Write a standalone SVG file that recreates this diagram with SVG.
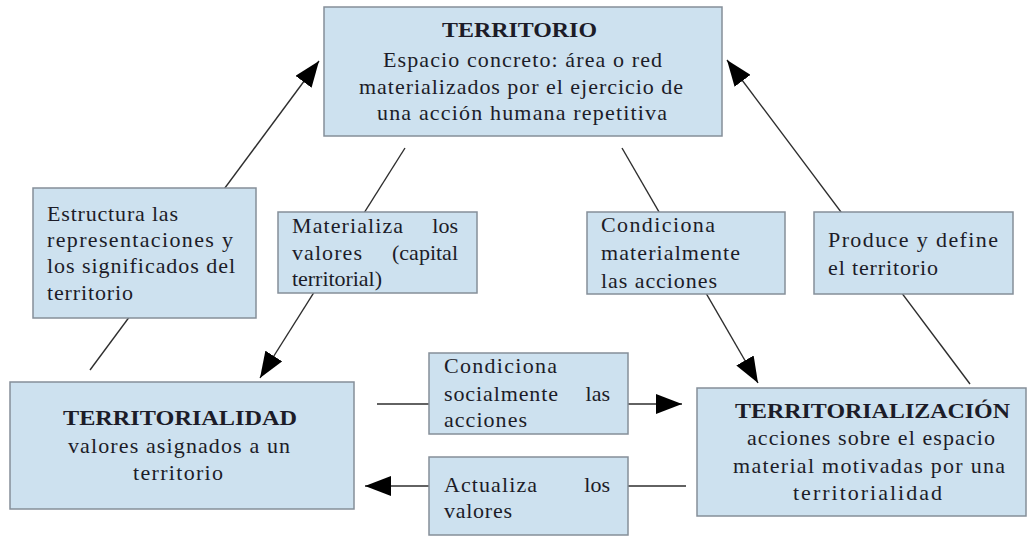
<svg xmlns="http://www.w3.org/2000/svg" width="1032" height="537" viewBox="0 0 1032 537">
  <style>
    .box { fill: #cde1ef; stroke: #858f99; stroke-width: 1.5; }
    .t { font-family: "Liberation Serif", "Times New Roman", serif; font-size: 22px; fill: #1c1c28; }
    .b { font-weight: bold; }
    .c { text-anchor: middle; }
    .e { text-anchor: end; }
    .conn { stroke: #2e2e2e; stroke-width: 1.4; fill: none; marker-end: url(#arrow); }
    .plain { stroke: #2e2e2e; stroke-width: 1.4; fill: none; }
  </style>
  <defs>
    <marker id="arrow" markerUnits="userSpaceOnUse" markerWidth="26" markerHeight="20" viewBox="0 0 26 20" refX="26" refY="10" orient="auto">
      <path d="M0,0 L26,10 L0,20 z" fill="#000"/>
    </marker>
  </defs>
  <rect width="1032" height="537" fill="#ffffff"/>

  <g id="connectors">
    <line class="conn" x1="90" y1="370" x2="319" y2="61"/>
    <line class="conn" x1="405" y1="148" x2="260" y2="378"/>
    <line class="conn" x1="622" y1="148" x2="758" y2="383"/>
    <line class="conn" x1="970" y1="384" x2="727" y2="60"/>
    <line class="conn" x1="377" y1="404" x2="682" y2="404"/>
    <line class="conn" x1="686" y1="486" x2="365" y2="486"/>
  </g>

  <g id="territorio">
    <rect class="box" x="324" y="7" width="398" height="129"/>
    <text class="t b" x="442" y="37" textLength="155" lengthAdjust="spacingAndGlyphs">TERRITORIO</text>
    <text class="t" x="383" y="67" textLength="279" lengthAdjust="spacing">Espacio concreto: área o red</text>
    <text class="t" x="359" y="94" textLength="324" lengthAdjust="spacing">materializados por el ejercicio de</text>
    <text class="t" x="377" y="120" textLength="290" lengthAdjust="spacing">una acción humana repetitiva</text>
  </g>

  <g id="estructura">
    <rect class="box" x="33" y="188" width="223" height="130"/>
    <text class="t" x="47" y="221" textLength="131" lengthAdjust="spacing">Estructura las</text>
    <text class="t" x="47" y="247" textLength="186" lengthAdjust="spacing">representaciones y</text>
    <text class="t" x="47" y="273" textLength="188" lengthAdjust="spacing">los significados del</text>
    <text class="t" x="47" y="300" textLength="86" lengthAdjust="spacing">territorio</text>
  </g>

  <g id="materializa">
    <rect class="box" x="278" y="212" width="199" height="81"/>
    <text class="t" x="292" y="233" textLength="111" lengthAdjust="spacing">Materializa</text>
    <text class="t e" x="458" y="233">los</text>
    <text class="t" x="292" y="260" textLength="70" lengthAdjust="spacing">valores</text>
    <text class="t e" x="458" y="260">(capital</text>
    <text class="t" x="292" y="286" textLength="90" lengthAdjust="spacing">territorial)</text>
  </g>

  <g id="condiciona-materialmente">
    <rect class="box" x="587" y="212" width="198" height="82"/>
    <text class="t" x="601" y="232" textLength="114" lengthAdjust="spacing">Condiciona</text>
    <text class="t" x="601" y="260" textLength="139" lengthAdjust="spacing">materialmente</text>
    <text class="t" x="601" y="288" textLength="116" lengthAdjust="spacing">las acciones</text>
  </g>

  <g id="produce">
    <rect class="box" x="814" y="212" width="199" height="82"/>
    <text class="t" x="828" y="247" textLength="170" lengthAdjust="spacing">Produce y define</text>
    <text class="t" x="828" y="275" textLength="110" lengthAdjust="spacing">el territorio</text>
  </g>

  <g id="territorialidad">
    <rect class="box" x="10" y="382" width="344" height="127"/>
    <text class="t b" x="63" y="425" textLength="234" lengthAdjust="spacingAndGlyphs">TERRITORIALIDAD</text>
    <text class="t" x="68" y="453" textLength="222" lengthAdjust="spacing">valores asignados a un</text>
    <text class="t" x="133" y="480" textLength="90" lengthAdjust="spacing">territorio</text>
  </g>

  <g id="condiciona-socialmente">
    <rect class="box" x="429" y="353" width="199" height="81"/>
    <text class="t" x="444" y="373" textLength="113" lengthAdjust="spacing">Condiciona</text>
    <text class="t" x="444" y="401" textLength="114" lengthAdjust="spacing">socialmente</text>
    <text class="t e" x="610" y="401">las</text>
    <text class="t" x="444" y="427" textLength="83" lengthAdjust="spacing">acciones</text>
  </g>

  <g id="actualiza">
    <rect class="box" x="429" y="457" width="199" height="78"/>
    <text class="t" x="444" y="492" textLength="93" lengthAdjust="spacing">Actualiza</text>
    <text class="t e" x="610" y="492">los</text>
    <text class="t" x="444" y="518" textLength="68" lengthAdjust="spacing">valores</text>
  </g>

  <g id="territorializacion">
    <rect class="box" x="697" y="388" width="329" height="128"/>
    <text class="t b" x="735" y="418" textLength="275" lengthAdjust="spacingAndGlyphs">TERRITORIALIZACIÓN</text>
    <text class="t" x="747" y="445" textLength="248" lengthAdjust="spacing">acciones sobre el espacio</text>
    <text class="t" x="733" y="473" textLength="272" lengthAdjust="spacing">material motivadas por una</text>
    <text class="t" x="793" y="500" textLength="149" lengthAdjust="spacing">territorialidad</text>
  </g>
</svg>
